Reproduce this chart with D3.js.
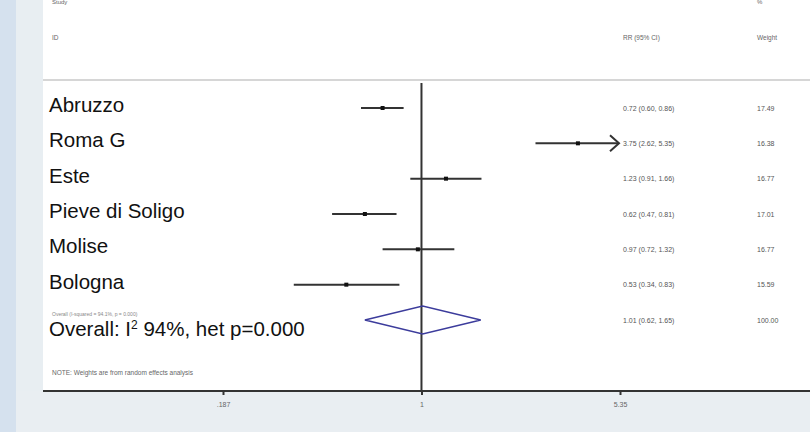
<!DOCTYPE html>
<html>
<head>
<meta charset="utf-8">
<script src="https://cdn.jsdelivr.net/npm/d3@7"></script>
<style>
  body { margin: 0; background: #fff; }
  svg { display: block; font-family: "Liberation Sans", Arial, sans-serif; }
</style>
</head>
<body>
<div id="canvas"></div>
<script>
// study rows
var studies = ["Abruzzo", "Roma G", "Este", "Pieve di Soligo", "Molise", "Bologna"];
var rr      = [0.72, 3.75, 1.23, 0.62, 0.97, 0.53];
var lower   = [0.60, 2.62, 0.91, 0.47, 0.72, 0.34];
var upper   = [0.86, 5.35, 1.66, 0.81, 1.32, 0.83];
var ciText  = ["0.72 (0.60, 0.86)", "3.75 (2.62, 5.35)", "1.23 (0.91, 1.66)",
               "0.62 (0.47, 0.81)", "0.97 (0.72, 1.32)", "0.53 (0.34, 0.83)"];
var weights = ["17.49", "16.38", "16.77", "17.01", "16.77", "15.59"];

// pooled estimate
var overallRR = [1.01, 0.62, 1.65];   // est, lo, hi
var overallCI = "1.01 (0.62, 1.65)";
var overallWeight = "100.00";

var tickVals   = [0.187, 1, 5.35];
var tickLabels = [".187", "1", "5.35"];

var width = 810, height = 432;

var svg = d3.select("#canvas").append("svg")
    .attr("width", width)
    .attr("height", height);

// background panels
svg.append("rect").attr("width", width).attr("height", height).attr("fill", "#ffffff");
svg.append("rect").attr("x", 0).attr("y", 0).attr("width", 16).attr("height", height).attr("fill", "#d5e1ee");
svg.append("rect").attr("x", 16).attr("y", 0).attr("width", 27).attr("height", height).attr("fill", "#e8eef2");
svg.append("rect").attr("x", 16).attr("y", 391).attr("width", width - 16).attr("height", height - 391).attr("fill", "#e9eef2");

// header separator
svg.append("line")
    .attr("x1", 43).attr("x2", width)
    .attr("y1", 80).attr("y2", 80)
    .attr("stroke", "#c8c8c8").attr("stroke-width", 1.5);

var x = d3.scaleLog().domain([0.187, 5.35]).range([223, 620]);
var y = d3.scalePoint().domain(d3.range(studies.length + 1)).range([108, 320]);

// header text
var small = "#666";
svg.append("text").attr("x", 52).attr("y", 4).attr("font-size", 6).attr("fill", small).text("Study");
svg.append("text").attr("x", 757).attr("y", 4).attr("font-size", 6).attr("fill", small).text("%");
svg.append("text").attr("x", 52).attr("y", 40).attr("font-size", 6.5).attr("fill", small).text("ID");
svg.append("text").attr("x", 623).attr("y", 40).attr("font-size", 6.5).attr("fill", small).text("RR (95% CI)");
svg.append("text").attr("x", 757).attr("y", 40).attr("font-size", 6.5).attr("fill", small).text("Weight");

// reference line at 1
svg.append("line")
    .attr("x1", x(1)).attr("x2", x(1))
    .attr("y1", 83).attr("y2", 391)
    .attr("stroke", "#333").attr("stroke-width", 2);

// study rows
var rows = svg.selectAll("g.study")
    .data(studies)
    .enter().append("g")
    .attr("class", "study")
    .attr("transform", function(d, i) { return "translate(0," + y(i) + ")"; });

rows.append("text")
    .attr("x", 49).attr("y", 4)
    .attr("font-size", 20.5)
    .attr("fill", "#111")
    .text(function(d) { return d; });

var xMax = x.domain()[1];
rows.append("line")
    .attr("x1", function(d, i) { return x(lower[i]); })
    .attr("x2", function(d, i) { return upper[i] >= xMax ? x(xMax) - 2 : x(upper[i]); })
    .attr("y1", 0).attr("y2", 0)
    .attr("stroke", "#333").attr("stroke-width", 2);

// arrow for CI running off the scale
rows.filter(function(d, i) { return upper[i] >= xMax; })
    .append("path")
    .attr("d", "M" + (x(xMax) - 10) + ",-8 L" + (x(xMax) - 1) + ",0 L" + (x(xMax) - 10) + ",8")
    .attr("fill", "none").attr("stroke", "#333").attr("stroke-width", 2);

rows.append("rect")
    .attr("x", function(d, i) { return x(rr[i]) - 2; })
    .attr("y", -2)
    .attr("width", 4).attr("height", 4)
    .attr("fill", "#111");

rows.append("text")
    .attr("x", 623).attr("y", 2.5)
    .attr("font-size", 7).attr("fill", "#555")
    .text(function(d, i) { return ciText[i]; });

rows.append("text")
    .attr("x", 757).attr("y", 2.5)
    .attr("font-size", 7).attr("fill", "#555")
    .text(function(d, i) { return weights[i]; });

// overall diamond
var oy = y(studies.length);
svg.append("path")
    .attr("d", "M" + x(overallRR[1]) + "," + oy +
               " L" + x(overallRR[0]) + "," + (oy - 14) +
               " L" + x(overallRR[2]) + "," + oy +
               " L" + x(overallRR[0]) + "," + (oy + 14) + " Z")
    .attr("fill", "none").attr("stroke", "#3c3c9c").attr("stroke-width", 1.5);

svg.append("text").attr("x", 52).attr("y", oy - 4)
    .attr("font-size", 5).attr("fill", "#888")
    .text("Overall (I-squared = 94.1%, p = 0.000)");

var ov = svg.append("text").attr("x", 49).attr("y", oy + 16)
    .attr("font-size", 20.5).attr("fill", "#111");
ov.append("tspan").text("Overall: I");
ov.append("tspan").attr("font-size", 12).attr("dy", -7).text("2");
ov.append("tspan").attr("dy", 7).text(" 94%, het p=0.000");

svg.append("text").attr("x", 623).attr("y", oy + 2.5)
    .attr("font-size", 7).attr("fill", "#555").text(overallCI);
svg.append("text").attr("x", 757).attr("y", oy + 2.5)
    .attr("font-size", 7).attr("fill", "#555").text(overallWeight);

// note
svg.append("text").attr("x", 52).attr("y", 375)
    .attr("font-size", 6.5).attr("fill", "#666")
    .text("NOTE: Weights are from random effects analysis");

// x axis
svg.append("line")
    .attr("x1", 43).attr("x2", width)
    .attr("y1", 391).attr("y2", 391)
    .attr("stroke", "#333").attr("stroke-width", 2);

var axis = svg.append("g")
    .attr("transform", "translate(0,391)")
    .call(d3.axisBottom(x)
        .tickValues(tickVals)
        .tickSize(4)
        .tickSizeOuter(0)
        .tickFormat(function(d, i) { return tickLabels[i]; }));
axis.select(".domain").remove();
axis.selectAll(".tick line").attr("stroke", "#333").attr("stroke-width", 2);
axis.selectAll(".tick text")
    .attr("y", 11)
    .attr("font-family", "Liberation Sans, Arial, sans-serif")
    .attr("font-size", 7).attr("fill", "#666");
</script>
</body>
</html>
